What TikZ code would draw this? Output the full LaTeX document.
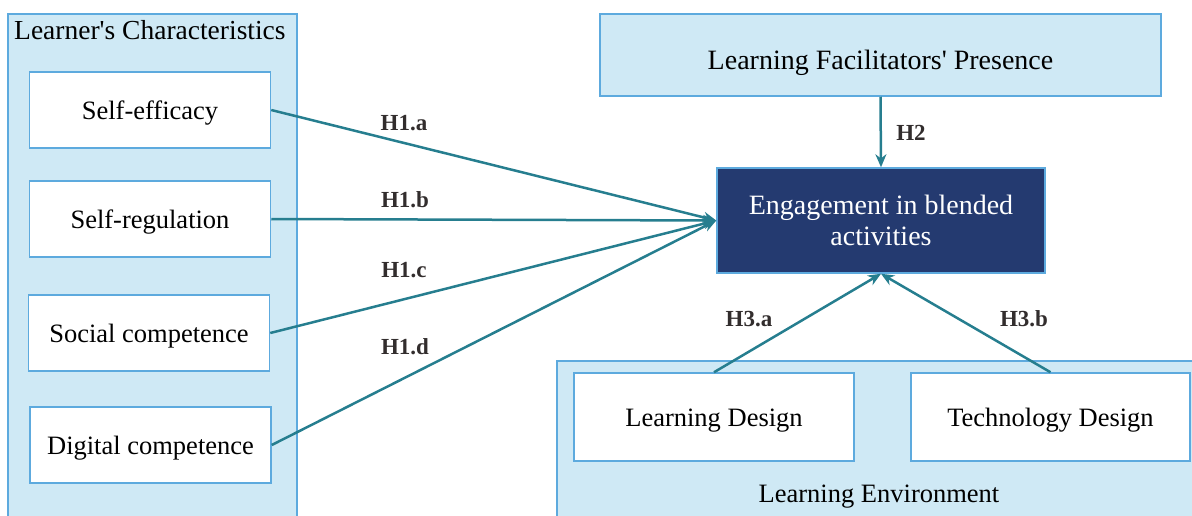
\documentclass[tikz,border=0pt]{standalone}
\usepackage{fontspec}
\setmainfont{Liberation Serif}[Ligatures=TeXOff]
\usetikzlibrary{arrows.meta}
\definecolor{paleblue}{RGB}{207,233,245}
\definecolor{edgeblue}{RGB}{93,170,222}
\definecolor{navyfill}{RGB}{36,58,112}
\definecolor{arrowteal}{RGB}{38,126,143}
\definecolor{labelgray}{RGB}{50,45,45}

\begin{document}
\begin{tikzpicture}[x=1pt, y=-1pt,
    group/.style={draw=edgeblue, fill=paleblue, line width=1.5pt},
    factor/.style={draw=edgeblue, fill=white, line width=1.5pt, inner sep=0pt,
      minimum width=241pt, minimum height=76pt, text height=21pt, text depth=3pt,
      font=\fontsize{26.5}{31}\selectfont},
    path/.style={-{Stealth[length=13pt, width=11pt]}, draw=arrowteal, line width=2.5pt},
    hyp/.style={text=labelgray, font=\fontsize{23}{26}\selectfont\bfseries}]
    \useasboundingbox (0, 0) rectangle (1192, 515);

    % the two groups
    \draw[group] (8, 14) rectangle (297, 530);
    \node[anchor=west, inner sep=0pt, font=\fontsize{27.5}{31}\selectfont] (lc) at (14, 30) {Learner's Characteristics};
    \draw[group] (557, 361) rectangle (1210, 530);
    \node[inner sep=0pt, font=\fontsize{26.5}{31}\selectfont] (le) at (879, 497) {Learning Environment};

    % learner side
    \node[factor] (eff) at (150, 110) {Self-efficacy};
    \node[factor] (reg) at (150, 219) {Self-regulation};
    \node[factor] (soc) at (149, 333) {Social competence};
    \node[factor] (dig) at (150.5, 445) {Digital competence};

    % facilitator, outcome and environment
    \node[factor, fill=paleblue, minimum width=561pt, minimum height=82pt, text height=28pt, text depth=0pt,
      font=\fontsize{28}{31}\selectfont] (lfp) at (880.5, 55) {Learning Facilitators' Presence};
    \node[factor, fill=navyfill, text=white, align=center, text height={}, text depth={},
      font=\fontsize{28}{31}\selectfont, minimum width=328pt, minimum height=105pt] (eng) at (881, 220.5) {Engagement in blended\\activities};
    \node[factor, minimum width=280pt, minimum height=88pt] (ld) at (714, 417) {Learning Design};
    \node[factor, minimum width=279pt, minimum height=88pt] (td) at (1050.5, 417) {Technology Design};

    \draw[path] (eff.east) -- (eng.west);
    \draw[path] (reg.east) -- (eng.west);
    \draw[path] (soc.east) -- (eng.west);
    \draw[path] (dig.east) -- (eng.west);
    \draw[path] (lfp.south) -- (eng.north);
    \draw[path] (ld.north) -- (eng.south);
    \draw[path] (td.north) -- (eng.south);

    \node[hyp] (h1a) at (404, 123) {H1.a};
    \node[hyp] (h1b) at (405, 200) {H1.b};
    \node[hyp] (h1c) at (404, 270) {H1.c};
    \node[hyp] (h1d) at (405, 347) {H1.d};
    \node[hyp] (h2) at (911, 133) {H2};
    \node[hyp] (h3a) at (749, 319) {H3.a};
    \node[hyp] (h3b) at (1024, 319) {H3.b};
\end{tikzpicture}
\end{document}
